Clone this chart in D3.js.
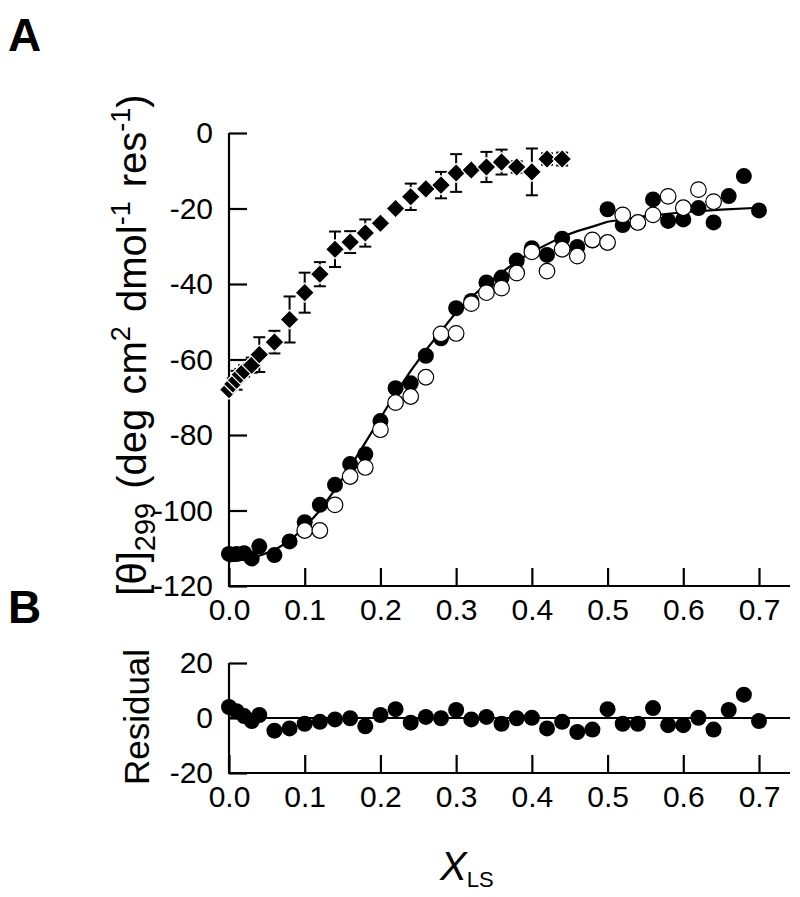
<!DOCTYPE html>
<html><head><meta charset="utf-8">
<script src="https://cdn.jsdelivr.net/npm/d3@7"></script>
<style>
body{margin:0;background:#fff;}
svg text{font-family:"Liberation Sans",Arial,Helvetica,sans-serif;fill:#000;}
</style></head>
<body><svg id="c" width="800" height="897"></svg>
<script>
// ---- data ----
const xTicks = [0, 0.1, 0.2, 0.3, 0.4, 0.5, 0.6, 0.7];
const yTicksMain = [0, -20, -40, -60, -80, -100, -120];
const yTicksRes = [20, 0, -20];

const diamondX = [0, 0.005, 0.01, 0.015, 0.02, 0.03, 0.04, 0.06, 0.08, 0.10, 0.12, 0.14, 0.16, 0.18, 0.20, 0.22, 0.24, 0.26, 0.28, 0.30, 0.32, 0.34, 0.36, 0.38, 0.40, 0.42, 0.44];
const diamondY = [-68, -66.5, -65.5, -64, -63, -61.5, -58.7, -55.4, -49.4, -42.3, -37.4, -30.8, -28.9, -26.5, -23.9, -20, -16.9, -14.8, -13.8, -10.6, -9.8, -9.0, -7.7, -9.0, -10.3, -6.9, -6.9];
const diamondErr = [0, 1.5, 2.5, 1.5, 1.5, 2, 4.6, 3, 6.1, 5.3, 3.2, 4.7, 2.9, 3.6, 0, 0, 3.5, 0, 3.5, 5, 0, 4, 3.3, 1.5, 6.2, 1.5, 1.7];

const filledX = [0, 0.01, 0.02, 0.03, 0.04, 0.06, 0.08, 0.10, 0.12, 0.14, 0.16, 0.18, 0.20, 0.22, 0.24, 0.26, 0.28, 0.30, 0.32, 0.34, 0.36, 0.38, 0.40, 0.42, 0.44, 0.46, 0.48, 0.50, 0.52, 0.54, 0.56, 0.58, 0.60, 0.62, 0.64, 0.66, 0.68, 0.70];
const filledY = [-111.5, -111.5, -111.3, -112.7, -109.5, -111.8, -108.2, -103.1, -98.5, -93.2, -87.7, -85.1, -76.3, -67.6, -66.3, -59.0, -54.4, -46.4, -44.5, -39.6, -38.3, -33.8, -30.5, -32.3, -28.0, -30.2, -28.5, -20.2, -24.4, -23.7, -17.6, -23.3, -22.9, -19.9, -23.7, -16.7, -11.4, -20.5];
const residualY = [4.0, 2.5, 0.7, -1.1, 1.1, -4.6, -3.8, -2.1, -1.4, -0.5, -0.1, -3.0, 1.1, 3.2, -1.7, 0.4, -0.1, 2.9, -0.5, 0.4, -2.1, -0.1, 0.1, -3.8, -1.4, -5.1, -4.2, 3.2, -2.1, -2.1, 3.6, -2.6, -2.6, 0.1, -4.2, 2.9, 8.5, -1.1];

const openX = [0.10, 0.12, 0.14, 0.16, 0.18, 0.20, 0.22, 0.24, 0.26, 0.28, 0.30, 0.32, 0.34, 0.36, 0.38, 0.40, 0.42, 0.44, 0.46, 0.48, 0.50, 0.52, 0.54, 0.56, 0.58, 0.60, 0.62, 0.64];
const openY = [-105.3, -105.3, -98.5, -91, -88.6, -78.6, -71.4, -69.8, -64.7, -53.2, -53.1, -45.2, -42.3, -41.1, -37.1, -31.5, -36.6, -30.8, -32.6, -28.3, -29.0, -21.7, -23.7, -21.7, -16.8, -19.8, -15.0, -18.2];

const fitX = [0, 0.02, 0.04, 0.06, 0.08, 0.10, 0.12, 0.14, 0.16, 0.18, 0.20, 0.22, 0.24, 0.26, 0.28, 0.30, 0.32, 0.34, 0.36, 0.38, 0.40, 0.42, 0.44, 0.46, 0.48, 0.50, 0.55, 0.60, 0.65, 0.70];
const fitY = [-113.5, -113, -112, -110.5, -108, -104.5, -100, -94.5, -88.5, -82, -75.5, -69, -63, -57.5, -52.5, -47.5, -43.5, -40, -37, -34, -31.5, -29.5, -27.5, -26, -24.8, -23.5, -22, -21, -20.3, -19.8];

// ---- layout ----
const svg = d3.select("#c");
const X0 = 229, X1 = 759, XEND = 790;
const x = d3.scaleLinear().domain([0, 0.7]).range([X0, X1]);
const y = d3.scaleLinear().domain([-120, 0]).range([586, 133]);
const yr = d3.scaleLinear().domain([-20, 20]).range([773, 663]);
const FS = 30;

function drawXAxis(yPos) {
  const g = svg.append("g").attr("transform", `translate(0,${yPos})`)
    .call(d3.axisBottom(x).tickValues(xTicks).tickFormat(d => d.toFixed(1)).tickSizeInner(-18).tickSizeOuter(0).tickPadding(13));
  g.select(".domain").attr("d", `M${X0},0H${XEND}`);
  g.selectAll("path,line").attr("stroke", "#000").attr("stroke-width", 2.2);
  g.selectAll("text").attr("font-size", FS).attr("font-family", null);
}
function drawYAxis(scale, ticks, top, bottom) {
  const g = svg.append("g").attr("transform", `translate(${X0},0)`)
    .call(d3.axisLeft(scale).tickValues(ticks).tickFormat(d => String(d)).tickSizeInner(-18).tickSizeOuter(0).tickPadding(16));
  g.select(".domain").attr("d", `M0,${top}V${bottom}`);
  g.selectAll("path,line").attr("stroke", "#000").attr("stroke-width", 2.2);
  g.selectAll("text").attr("font-size", FS).attr("font-family", null);
}

drawYAxis(y, yTicksMain, 133, 587);
drawXAxis(586);
drawYAxis(yr, yTicksRes, 663, 774);
drawXAxis(773);

// fit line
const fit = fitX.map((d, i) => [d, fitY[i]]);
svg.append("path").datum(fit)
  .attr("d", d3.line().x(d => x(d[0])).y(d => y(d[1])))
  .attr("fill", "none").attr("stroke", "#000").attr("stroke-width", 2.2);

// diamonds with error bars
const dia = diamondX.map((d, i) => ({x: d, y: diamondY[i], e: diamondErr[i]}));
const eb = svg.append("g").attr("stroke", "#000").attr("stroke-width", 2);
dia.filter(d => d.e > 0).forEach(d => {
  eb.append("line").attr("x1", x(d.x)).attr("x2", x(d.x)).attr("y1", y(d.y + d.e)).attr("y2", y(d.y - d.e));
  eb.append("line").attr("x1", x(d.x) - 6).attr("x2", x(d.x) + 6).attr("y1", y(d.y + d.e)).attr("y2", y(d.y + d.e));
  eb.append("line").attr("x1", x(d.x) - 6).attr("x2", x(d.x) + 6).attr("y1", y(d.y - d.e)).attr("y2", y(d.y - d.e));
});
svg.append("g").selectAll("path").data(dia).join("path")
  .attr("transform", d => `translate(${x(d.x)},${y(d.y)})`)
  .attr("d", "M0,-9.5L9.5,0L0,9.5L-9.5,0Z")
  .attr("fill", "#000").attr("stroke", "#fff").attr("stroke-width", 1.2);

// filled circles
const filled = filledX.map((d, i) => ({x: d, y: filledY[i], r: residualY[i]}));
svg.append("g").selectAll("circle").data(filled).join("circle")
  .attr("cx", d => x(d.x)).attr("cy", d => y(d.y)).attr("r", 8).attr("fill", "#000");

// open circles
const open = openX.map((d, i) => ({x: d, y: openY[i]}));
svg.append("g").selectAll("circle").data(open).join("circle")
  .attr("cx", d => x(d.x)).attr("cy", d => y(d.y)).attr("r", 7.8)
  .attr("fill", "#fff").attr("stroke", "#000").attr("stroke-width", 1.2);

// residual panel
svg.append("line").attr("x1", x(0)).attr("x2", XEND).attr("y1", yr(0)).attr("y2", yr(0))
  .attr("stroke", "#000").attr("stroke-width", 2);
svg.append("g").selectAll("circle").data(filled).join("circle")
  .attr("cx", d => x(d.x)).attr("cy", d => yr(d.r)).attr("r", 8).attr("fill", "#000");

// panel letters
svg.append("text").attr("x", 8).attr("y", 51).attr("font-size", 46).attr("font-weight", "bold").text("A");
svg.append("text").attr("x", 8).attr("y", 623).attr("font-size", 46).attr("font-weight", "bold").text("B");

// y label main
const yl = svg.append("text").attr("transform", "translate(146,345) rotate(-90)")
  .attr("text-anchor", "middle").attr("font-size", 40).attr("word-spacing", 3);
yl.append("tspan").text("[θ]");
yl.append("tspan").attr("font-size", 29).attr("dy", 9).text("299");
yl.append("tspan").attr("dy", -9).text(" (deg cm");
yl.append("tspan").attr("font-size", 27).attr("dy", -16).text("2");
yl.append("tspan").attr("dy", 16).text(" dmol");
yl.append("tspan").attr("font-size", 27).attr("dy", -16).text("-1");
yl.append("tspan").attr("dy", 16).text(" res");
yl.append("tspan").attr("font-size", 27).attr("dy", -16).text("-1");
yl.append("tspan").attr("dy", 16).text(")");

// residual label
svg.append("text").attr("transform", "translate(149,717) rotate(-90)")
  .attr("text-anchor", "middle").attr("font-size", 35).text("Residual");

// x label
const xl = svg.append("text").attr("x", 440).attr("y", 880).attr("font-size", 40);
xl.append("tspan").attr("font-style", "italic").text("X");
xl.append("tspan").attr("font-size", 22).attr("dy", 7).text("LS");
</script></body></html>
